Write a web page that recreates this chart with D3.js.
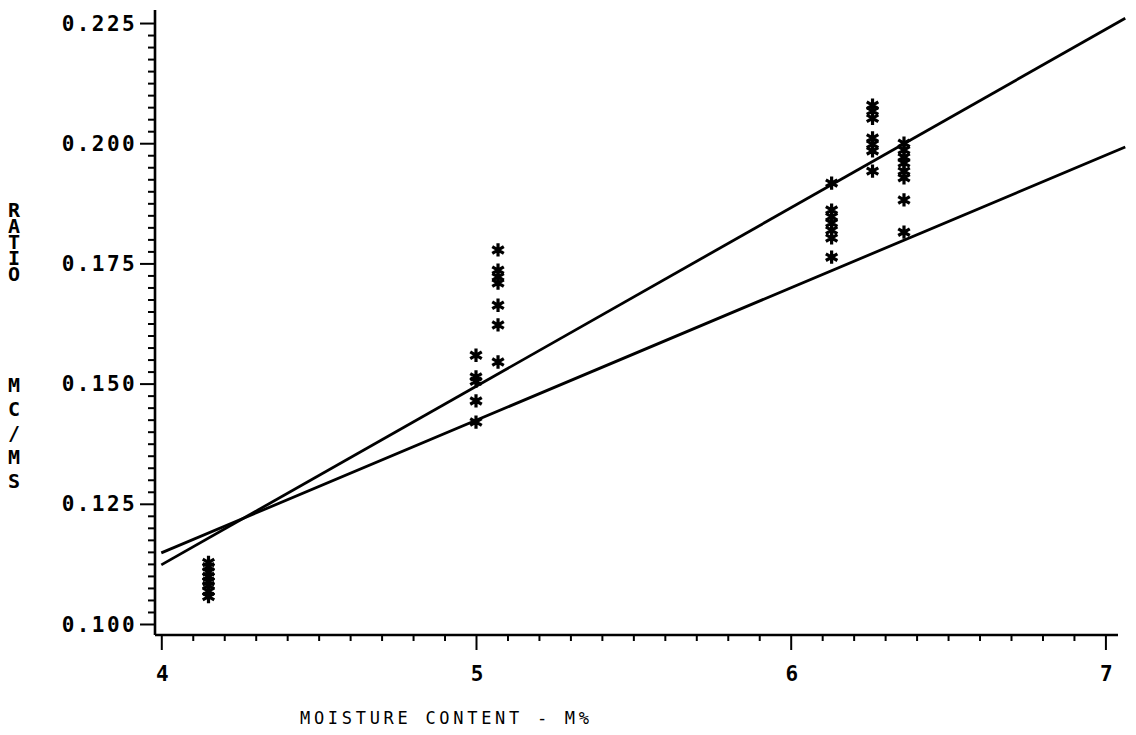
<!DOCTYPE html>
<html>
<head>
<meta charset="utf-8">
<script src="https://cdn.jsdelivr.net/npm/d3@7"></script>
<style>
  html, body { margin: 0; padding: 0; background: #fff; }
  svg { display: block; }
  text { font-family: "DejaVu Sans Mono", monospace; font-weight: bold; fill: #000; }
  .vtitle { writing-mode: vertical-rl; text-orientation: upright; }
</style>
</head>
<body>
<svg id="chart" width="1136" height="735"></svg>
<script>
// Moisture content (M%) of each measured sample
const moisture = [
  4.15, 4.15, 4.15, 4.15, 4.15, 4.15, 4.15, 4.15,
  5.00, 5.00, 5.00, 5.00, 5.00,
  5.07, 5.07, 5.07, 5.07, 5.07, 5.07, 5.07,
  6.13, 6.13, 6.13, 6.13, 6.13, 6.13, 6.13,
  6.26, 6.26, 6.26, 6.26, 6.26, 6.26, 6.26,
  6.36, 6.36, 6.36, 6.36, 6.36, 6.36, 6.36, 6.36
];
// Ratio MC/MS measured for each sample
const ratio = [
  0.1128, 0.1119, 0.1108, 0.1099, 0.1088, 0.1080, 0.1068, 0.1057,
  0.1559, 0.1514, 0.1505, 0.1464, 0.1420,
  0.1778, 0.1736, 0.1722, 0.1709, 0.1663, 0.1622, 0.1545,
  0.1917, 0.1861, 0.1847, 0.1834, 0.1819, 0.1803, 0.1763,
  0.2079, 0.2067, 0.2052, 0.2011, 0.1998, 0.1984, 0.1942,
  0.2000, 0.1986, 0.1971, 0.1959, 0.1942, 0.1928, 0.1882, 0.1815
];
// Two fitted regression lines, given by their end points
const fitX = [4.0, 7.063];
const fitSteep = [0.1123, 0.2260];
const fitShallow = [0.1148, 0.1992];

// Axis ticks
const xTickLabels = ["4", "5", "6", "7"];
const xTicks = [4, 5, 6, 7];
const yTicks = [0.100, 0.125, 0.150, 0.175, 0.200, 0.225];
const yTickLabels = ["0.100", "0.125", "0.150", "0.175", "0.200", "0.225"];

const xTitle = "MOISTURE CONTENT - M%";
const yTitleTop = "RATIO";
const yTitleBottom = "MC/MS";

const svg = d3.select("#chart");
const plotLeft = 155, plotRight = 1118, plotTop = 10, plotBottom = 635;

const x = d3.scaleLinear().domain([3.98, 7.04]).range([plotLeft, plotRight]);
const y = d3.scaleLinear().domain([0.09771, 0.22771]).range([plotBottom, plotTop]);

const black = "#000";

// Y axis: minor ticks every 0.0025, labelled every 0.025
const yAxis = d3.axisLeft(y)
  .tickValues(d3.range(0, 51).map(i => 0.100 + i * 0.0025))
  .tickSize(0)
  .tickFormat("");
const gy = svg.append("g").attr("transform", `translate(${plotLeft},0)`).call(yAxis);
gy.select(".domain").remove();
svg.append("line")
  .attr("x1", plotLeft).attr("x2", plotLeft)
  .attr("y1", plotTop).attr("y2", plotBottom)
  .attr("stroke", black).attr("stroke-width", 2.6);
gy.selectAll(".tick line")
  .attr("x2", (d, i) => (i % 10 === 0 ? -15 : -7))
  .attr("stroke", black)
  .attr("stroke-width", 2);
svg.append("g").selectAll("text")
  .data(yTicks)
  .join("text")
  .attr("x", 137)
  .attr("y", d => y(d))
  .attr("dy", "0.36em")
  .attr("text-anchor", "end")
  .style("font-size", "21px")
  .style("letter-spacing", "2.4px")
  .text((d, i) => yTickLabels[i]);

// X axis: minor ticks every 0.1, labelled every 1
const xAxis = d3.axisBottom(x)
  .tickValues(d3.range(0, 31).map(i => 4 + i * 0.1))
  .tickSize(0)
  .tickFormat("");
const gx = svg.append("g").attr("transform", `translate(0,${plotBottom})`).call(xAxis);
gx.select(".domain").remove();
svg.append("line")
  .attr("x1", plotLeft).attr("x2", plotRight)
  .attr("y1", plotBottom).attr("y2", plotBottom)
  .attr("stroke", black).attr("stroke-width", 2.6);
gx.selectAll(".tick line")
  .attr("y2", (d, i) => (i % 10 === 0 ? 15 : 6))
  .attr("stroke", black)
  .attr("stroke-width", 2);
svg.append("g").selectAll("text")
  .data(xTicks)
  .join("text")
  .attr("x", d => x(d) + 1)
  .attr("y", 681)
  .attr("text-anchor", "middle")
  .style("font-size", "21px")
  .text((d, i) => xTickLabels[i]);

// Axis titles
svg.append("text")
  .attr("x", 300)
  .attr("y", 724)
  .style("font-size", "17px")
  .style("font-weight", "normal")
  .style("letter-spacing", "3.7px")
  .text(xTitle);

// Y title: each word written top to bottom with upright letters
svg.append("text")
  .attr("class", "vtitle")
  .attr("x", 14).attr("y", 198)
  .style("font-size", "20px")
  .style("letter-spacing", "-8px")
  .text(yTitleTop);
svg.append("text")
  .attr("class", "vtitle")
  .attr("x", 14).attr("y", 373)
  .style("font-size", "20px")
  .style("letter-spacing", "0px")
  .text(yTitleBottom);

// Regression lines
const line = d3.line().x(d => x(d[0])).y(d => y(d[1]));
[fitSteep, fitShallow].forEach(ends => {
  svg.append("path")
    .datum(fitX.map((xv, i) => [xv, ends[i]]))
    .attr("d", line)
    .attr("fill", "none")
    .attr("stroke", black)
    .attr("stroke-width", 2.8);
});

// Sample points drawn as asterisks
const star = d3.symbol().type(d3.symbolAsterisk).size(125);
svg.append("g").selectAll("path")
  .data(moisture.map((m, i) => [m, ratio[i]]))
  .join("path")
  .attr("transform", d => `translate(${x(d[0])},${y(d[1])})`)
  .attr("d", star)
  .attr("fill", "none")
  .attr("stroke", black)
  .attr("stroke-width", 3.2);
</script>
</body>
</html>
